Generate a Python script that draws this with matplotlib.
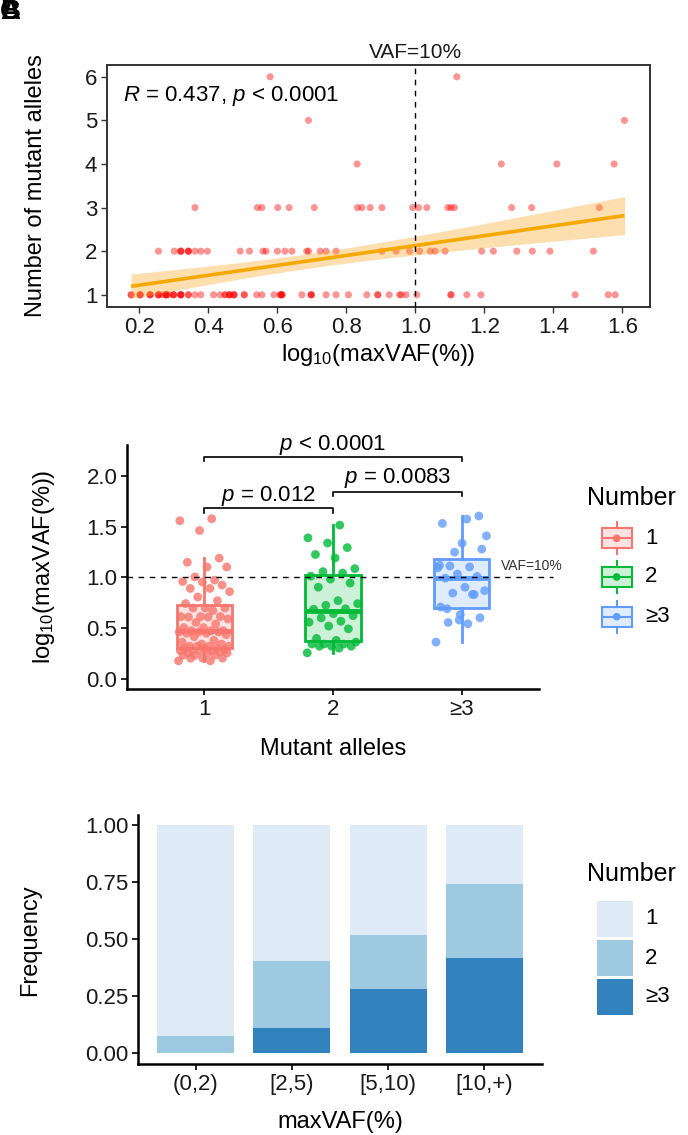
import numpy as np
import matplotlib
matplotlib.use('Agg')
import matplotlib.pyplot as plt
from matplotlib.patches import Rectangle
from matplotlib.lines import Line2D

plt.rcParams['font.family'] = ['Liberation Sans', 'DejaVu Sans']
plt.rcParams['mathtext.fontset'] = 'custom'
plt.rcParams['mathtext.rm'] = 'Liberation Sans'
plt.rcParams['mathtext.it'] = 'Liberation Sans:italic'

# ---------------- data: log10(maxVAF(%)) per number of mutant alleles ----------------
vaf_n1 = [0.176, 0.176, 0.202, 0.202, 0.202, 0.231, 0.231, 0.231, 0.255, 0.255, 0.255,
          0.265, 0.277, 0.277, 0.277, 0.277, 0.285, 0.299, 0.299, 0.299, 0.320, 0.320,
          0.320, 0.320, 0.342, 0.342, 0.361, 0.378, 0.415, 0.434, 0.448, 0.448, 0.461,
          0.461, 0.461, 0.474, 0.474, 0.474, 0.504, 0.504, 0.540, 0.555, 0.590, 0.608,
          0.608, 0.613, 0.613, 0.613, 0.671, 0.698, 0.698, 0.698, 0.741, 0.770, 0.806,
          0.859, 0.891, 0.891, 0.924, 0.954, 0.959, 0.973, 1.004, 1.103, 1.103, 1.149,
          1.190, 1.463, 1.559, 1.579]
vaf_n2 = [0.255, 0.301, 0.320, 0.320, 0.320, 0.342, 0.342, 0.342, 0.361, 0.378, 0.397,
          0.492, 0.519, 0.558, 0.567, 0.600, 0.622, 0.642, 0.685, 0.690, 0.724, 0.741,
          0.770, 0.903, 0.944, 0.983, 1.012, 1.043, 1.057, 1.086, 1.192, 1.226, 1.294,
          1.339, 1.390, 1.516]
vaf_n3 = [0.361, 0.542, 0.555, 0.601, 0.634, 0.707, 0.832, 0.845, 0.869, 0.903, 0.992,
          1.009, 1.033, 1.094, 1.103, 1.113, 1.279, 1.337, 1.533]
vaf_n4 = [0.831, 1.249, 1.410, 1.576]
vaf_n5 = [0.690, 1.606]
vaf_n6 = [0.579, 1.120]

allele_groups = ['1', '2', '\u22653']
r_text = r'$R$ = 0.437, $p$ < 0.0001'
pvals = [r'$p$ = 0.012', r'$p$ = 0.0083', r'$p$ < 0.0001']

bins = ['(0,2)', '[2,5)', '[5,10)', '[10,+)']
freq_ge3 = [0.000, 0.110, 0.279, 0.418]
freq_2 = [0.076, 0.296, 0.240, 0.324]
freq_1 = [0.924, 0.594, 0.481, 0.258]

# ---------------- figure ----------------
W, H = 688, 1135
fig = plt.figure(figsize=(W / 100, H / 100), dpi=100)


def rect(l, r, t, b):
    return [l / W, 1 - b / H, (r - l) / W, (b - t) / H]


TICK_FS = 16
TITLE_FS = 17
tick_col = '#1a1a1a'

# ================= Panel A: scatter =================
ax1 = fig.add_axes(rect(107, 650, 65, 307))
xs_list = [vaf_n1, vaf_n2, vaf_n3, vaf_n4, vaf_n5, vaf_n6]
x_all = np.concatenate([np.asarray(v, float) for v in xs_list])
y_all = np.concatenate([np.full(len(v), i + 1.0) for i, v in enumerate(xs_list)])
ax1.scatter(x_all, y_all, s=26, color='#FF0000', alpha=0.42, edgecolors='none', zorder=2)

slope, icpt = np.polyfit(x_all, y_all, 1)
xx = np.linspace(x_all.min(), x_all.max(), 200)
yy = icpt + slope * xx
n = len(x_all)
resid = y_all - (icpt + slope * x_all)
s_err = np.sqrt(np.sum(resid ** 2) / (n - 2))
se = s_err * np.sqrt(1 / n + (xx - x_all.mean()) ** 2 / np.sum((x_all - x_all.mean()) ** 2))
ci = 1.98 * se
ax1.fill_between(xx, yy - ci, yy + ci, color='#F7A21B', alpha=0.35, lw=0, zorder=3)
ax1.plot(xx, yy, color='#F5A800', lw=2.6, zorder=4, solid_capstyle='butt')
ax1.axvline(1.0, color='black', lw=1.0, ls=(0, (4, 4)), zorder=5)

ax1.set_xlim(0.106, 1.680)
ax1.set_ylim(0.72, 6.27)
ax1.set_xticks([0.2, 0.4, 0.6, 0.8, 1.0, 1.2, 1.4, 1.6])
ax1.set_xticklabels(['0.2', '0.4', '0.6', '0.8', '1.0', '1.2', '1.4', '1.6'])
ax1.set_yticks([1, 2, 3, 4, 5, 6])
for s in ax1.spines.values():
    s.set_color('#333333')
    s.set_linewidth(1.4)
ax1.tick_params(length=4, width=1.0, color='#333333', labelsize=TICK_FS,
                labelcolor=tick_col, pad=3)
ax1.text(0.153, 5.444, r_text, fontsize=16, va='baseline', ha='left', color='black')
ax1.text(1.0, 6.426, 'VAF=10%', fontsize=15, va='baseline', ha='center', color='#1a1a1a',
         clip_on=False)

# ================= Panel B: boxplot =================
ax2 = fig.add_axes(rect(127, 539, 445, 689))
groups = [np.asarray(vaf_n1), np.asarray(vaf_n2),
          np.asarray(vaf_n3 + vaf_n4 + vaf_n5 + vaf_n6)]
cols = ['#F8766D', '#00BA38', '#619CFF']
pos = [1, 2, 3]
bp = ax2.boxplot(groups, positions=pos, widths=0.43, patch_artist=True, showcaps=False,
                 showfliers=False, whis=1.5, zorder=2)
for i, c in enumerate(cols):
    bp['boxes'][i].set_facecolor(matplotlib.colors.to_rgba(c, 0.2))
    bp['boxes'][i].set_edgecolor(c)
    bp['boxes'][i].set_linewidth(2.0)
    bp['medians'][i].set_color(c)
    bp['medians'][i].set_linewidth(3.5)
    bp['medians'][i].set_solid_capstyle('butt')
    for w in bp['whiskers'][2 * i:2 * i + 2]:
        w.set_color(c)
        w.set_linewidth(2.0)
for i, (g, c) in enumerate(zip(groups, cols)):
    k = np.arange(len(g))
    jit = ((k * 0.6180339887) % 1.0 - 0.5) * 0.40
    ax2.scatter(pos[i] + jit, g, s=40, color=c, alpha=0.8, edgecolors='none', zorder=3)

ax2.set_xlim(0.4, 3.6)
ax2.set_ylim(-0.102, 2.307)
ax2.set_yticks([0.0, 0.5, 1.0, 1.5, 2.0])
ax2.set_yticklabels(['0.0', '0.5', '1.0', '1.5', '2.0'])
ax2.set_xticks(pos)
ax2.set_xticklabels(allele_groups)
ax2.plot([0.4, 3.706], [1.0, 1.0], color='black', lw=1.0, ls=(0, (4, 4)), zorder=4,
         clip_on=False)
ax2.text(3.305, 1.073, 'VAF=10%', fontsize=10, color='#333333', ha='left', va='baseline',
         clip_on=False)
for sp in ['top', 'right']:
    ax2.spines[sp].set_visible(False)
for sp in ['left', 'bottom']:
    ax2.spines[sp].set_linewidth(1.8)
    ax2.spines[sp].set_color('black')
ax2.tick_params(length=4, width=1.2, color='black', labelsize=TICK_FS, labelcolor=tick_col, pad=3)

brackets = [(1, 2, 1.682, 1.633, 1.757, pvals[0]),
            (2, 3, 1.846, 1.800, 1.929, pvals[1]),
            (1, 3, 2.190, 2.150, 2.258, pvals[2])]
for x0, x1, yh, yt, yb, lab in brackets:
    ax2.plot([x0, x0, x1, x1], [yt, yh, yh, yt], color='black', lw=1.2, clip_on=False, zorder=5)
    ax2.text((x0 + x1) / 2, yb, lab, fontsize=16, ha='center', va='baseline', color='black',
             clip_on=False)

# ================= Panel C: stacked bars =================
ax3 = fig.add_axes(rect(138, 542, 815, 1064))
xb = np.arange(1, len(bins) + 1)
c_ge3, c_2, c_1 = '#3182BD', '#9ECAE1', '#DEEBF7'
b3 = np.asarray(freq_ge3)
b2 = np.asarray(freq_2)
b1 = np.asarray(freq_1)
ax3.bar(xb, b3, width=0.8, color=c_ge3, edgecolor='none', zorder=2)
ax3.bar(xb, b2, width=0.8, bottom=b3, color=c_2, edgecolor='none', zorder=2)
ax3.bar(xb, b1, width=0.8, bottom=b3 + b2, color=c_1, edgecolor='none', zorder=2)
ax3.set_xlim(0.4, 4.6)
ax3.set_ylim(-0.049, 1.046)
ax3.set_xticks(xb)
ax3.set_xticklabels(bins)
ax3.set_yticks([0, 0.25, 0.5, 0.75, 1.0])
ax3.set_yticklabels(['0.00', '0.25', '0.50', '0.75', '1.00'])
for sp in ['top', 'right']:
    ax3.spines[sp].set_visible(False)
for sp in ['left', 'bottom']:
    ax3.spines[sp].set_linewidth(1.8)
    ax3.spines[sp].set_color('black')
ax3.tick_params(length=4, width=1.2, color='black', labelsize=TICK_FS, labelcolor=tick_col, pad=3)

# ================= overlay: titles, legends, panel tags =================
ov = fig.add_axes([0, 0, 1, 1], zorder=10)
ov.set_xlim(0, W)
ov.set_ylim(H, 0)
ov.axis('off')
ov.patch.set_alpha(0)

ov.text(36, 186, 'Number of mutant alleles', rotation=90, fontsize=TITLE_FS, ha='center', va='center')
ov.text(378, 355, r'log$_{10}$(maxVAF(%))', fontsize=TITLE_FS, ha='center', va='center')
ov.text(44, 567, r'log$_{10}$(maxVAF(%))', rotation=90, fontsize=TITLE_FS, ha='center', va='center')
ov.text(333, 749, 'Mutant alleles', fontsize=TITLE_FS, ha='center', va='center')
ov.text(30, 940, 'Frequency', rotation=90, fontsize=TITLE_FS, ha='center', va='center')
ov.text(340, 1122, 'maxVAF(%)', fontsize=TITLE_FS, ha='center', va='center')

for t in ['A', 'B', 'C']:
    ov.text(0, -1, t, fontsize=20, fontweight='bold', ha='left', va='top')

# box legend
ov.text(587, 498, 'Number', fontsize=18, ha='left', va='center')
for cy, c, lab in zip([538.3, 577.0, 616.7], cols, allele_groups):
    ov.add_patch(Rectangle((601.7, cy - 10), 30, 20, facecolor=matplotlib.colors.to_rgba(c, 0.2),
                           edgecolor=c, lw=1.5))
    ov.add_line(Line2D([616.7, 616.7], [cy - 16, cy - 10], color=c, lw=1.5))
    ov.add_line(Line2D([616.7, 616.7], [cy + 10, cy + 16], color=c, lw=1.5))
    ov.add_line(Line2D([601.7, 631.7], [cy, cy], color=c, lw=1.5))
    ov.scatter([616.7], [cy], s=30, color=c, edgecolors='none', zorder=11)
    ov.text(645, cy, lab, fontsize=16, ha='left', va='center')

# bar legend
ov.text(587, 874, 'Number', fontsize=18, ha='left', va='center')
for (t0, t1), c, lab in zip([(901, 937), (940, 976), (979, 1015)], [c_1, c_2, c_ge3],
                            allele_groups):
    ov.add_patch(Rectangle((597, t0), 36, t1 - t0, facecolor=c, edgecolor='none'))
    ov.text(645, (t0 + t1) / 2, lab, fontsize=16, ha='left', va='center')

fig.savefig('out.png', dpi=100)
